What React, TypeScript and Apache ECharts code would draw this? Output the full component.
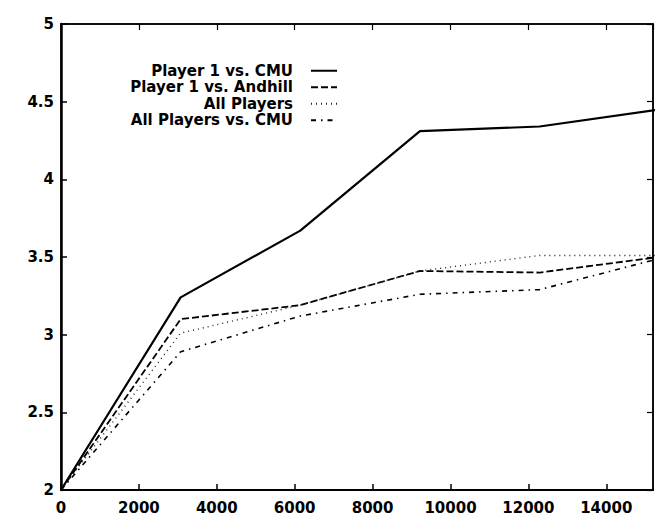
import React, { useEffect, useRef } from "react";
import * as echarts from "echarts";

const xValues = [0, 3072, 6144, 9216, 12288, 15360];
const seriesNames = ["Player 1 vs. CMU", "Player 1 vs. Andhill", "All Players", "All Players vs. CMU"];
const player1VsCmu = [2, 3.24, 3.67, 4.31, 4.34, 4.45];
const player1VsAndhill = [2, 3.1, 3.19, 3.41, 3.4, 3.5];
const allPlayers = [2, 3.01, 3.19, 3.41, 3.51, 3.51];
const allPlayersVsCmu = [2, 2.89, 3.12, 3.26, 3.29, 3.49];

const FONT = "DejaVu Sans";

export default function App() {
  const ref = useRef<HTMLDivElement>(null);
  useEffect(() => {
    if (!ref.current) return;
    const chart = echarts.init(ref.current, undefined, { renderer: "svg" });
    const toPts = (arr: number[]) => xValues.map((x, i) => [x, arr[i]]);
    const styles: any[] = [
      { color: "#000", width: 2.2, type: "solid" },
      { color: "#000", width: 1.8, type: [7, 3] },
      { color: "#222", width: 1.4, type: [1, 4] },
      { color: "#000", width: 1.6, type: [5, 5, 1.5, 5] },
    ];
    const datasets = [player1VsCmu, player1VsAndhill, allPlayers, allPlayersVsCmu];
    const axisText = { color: "#000", fontFamily: FONT, fontWeight: "bold" as const, fontSize: 15 };
    chart.setOption({
      animation: false,
      backgroundColor: "#fff",
      grid: { left: 61, right: 4, top: 24, bottom: 36, show: true, borderColor: "#000", borderWidth: 1.5 },
      legend: {
        orient: "vertical",
        align: "right",
        right: 319,
        top: 62.5,
        padding: 0,
        itemWidth: 26,
        itemHeight: 10,
        itemGap: 0,
        selectedMode: false,
        data: seriesNames,
        itemStyle: { opacity: 0 },
        textStyle: {
          fontFamily: FONT,
          fontWeight: "bold",
          fontSize: 15,
          color: "#000",
          lineHeight: 16.5,
          padding: [0, 13, 0, 0],
        },
      },
      xAxis: [
        {
          type: "value",
          min: 0,
          max: 15200,
          interval: 2000,
          position: "bottom",
          axisLine: { show: true, onZero: false, lineStyle: { color: "#000", width: 2 } },
          axisTick: { show: true, inside: true, length: 6, lineStyle: { color: "#000", width: 1.5 } },
          axisLabel: { ...axisText, showMaxLabel: false, margin: 10, formatter: (v: number) => String(v) },
          splitLine: { show: false },
        },
        {
          type: "value",
          min: 0,
          max: 15200,
          interval: 2000,
          position: "top",
          axisLine: { show: true, onZero: false, lineStyle: { color: "#000", width: 1.5 } },
          axisTick: { show: true, inside: true, length: 6, lineStyle: { color: "#000", width: 1.2 } },
          axisLabel: { show: false },
          splitLine: { show: false },
        },
      ],
      yAxis: [
        {
          type: "value",
          min: 2,
          max: 5,
          interval: 0.5,
          position: "left",
          axisLine: { show: true, onZero: false, lineStyle: { color: "#000", width: 2.5 } },
          axisTick: { show: true, inside: true, length: 6, lineStyle: { color: "#000", width: 1.5 } },
          axisLabel: { ...axisText, margin: 7, formatter: (v: number) => String(v) },
          splitLine: { show: false },
        },
        {
          type: "value",
          min: 2,
          max: 5,
          interval: 0.5,
          position: "right",
          axisLine: { show: true, onZero: false, lineStyle: { color: "#000", width: 1.5 } },
          axisTick: { show: true, inside: true, length: 6, lineStyle: { color: "#000", width: 1.2 } },
          axisLabel: { show: false },
          splitLine: { show: false },
        },
      ],
      series: seriesNames.map((name, i) => ({
        name,
        type: "line",
        xAxisIndex: 0,
        yAxisIndex: 0,
        data: toPts(datasets[i]),
        symbol: "none",
        showSymbol: false,
        clip: true,
        color: "#000",
        itemStyle: { opacity: 0 },
        lineStyle: styles[i],
      })),
    });
    return () => chart.dispose();
  }, []);
  return (
    <div
      ref={ref}
      style={{ position: "absolute", left: 0, top: 0, width: 657, height: 526, background: "#fff" }}
    />
  );
}
